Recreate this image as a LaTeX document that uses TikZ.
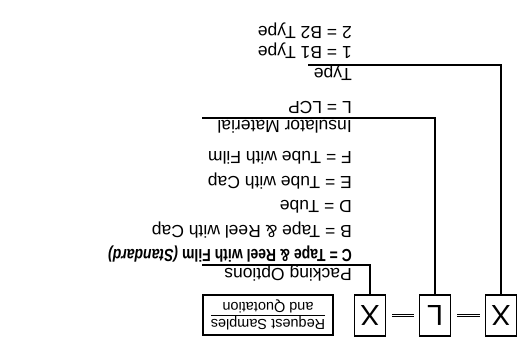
\documentclass[tikz,border=0pt]{standalone}
\usepackage{fontspec}
\setmainfont{Liberation Sans}
\usepackage{graphicx}
\usepackage{tikz}
\usetikzlibrary{positioning}

\begin{document}
\begin{tikzpicture}[x=1pt,y=-1pt,rotate=180,transform shape,
  codebox/.style={draw,line width=1.1pt,minimum width=31pt,minimum height=41pt,inner sep=0pt,font=\fontsize{29}{30}\selectfont},
  dashlink/.style={double,double distance=1.6pt,line width=0.9pt,shorten <=5pt,shorten >=6pt},
  lead/.style={line width=1.3pt},
  head/.style={anchor=base west,inner sep=0pt,font=\fontsize{17.5}{20}\selectfont}]
  \useasboundingbox (0,0) rectangle (518,350);
  % part number boxes
  \node[codebox] (typx) at (17,34.5) {X};
  \node[codebox] (insl) at (83,34.5) {L};
  \node[codebox] (packx) at (148,34.5) {X};
  \draw[dashlink] (typx) -- (insl);
  \draw[dashlink] (insl) -- (packx);
  \node[draw,line width=1.1pt,minimum width=130pt,minimum height=40pt,inner sep=0pt,align=center,font=\fontsize{14.5}{17}\selectfont] (req) at (250,35) {\underline{Request Samples}\\and Quotation};
  % packing options
  \node[head] (packhd) at (166,81) {Packing Options};
  \node[head] (packc) at (166,100) {\scalebox{0.8}[1]{\bfseries C = Tape \& Reel with Film \itshape(Standard)}};
  \foreach \v/\nm/\txt in {124.5/packb/{B = Tape \& Reel with Cap}, 149/packd/{D = Tube}, 173.5/packe/{E = Tube with Cap}, 198/packf/{F = Tube with Film}} {
    \node[head] (\nm) at (166,\v) {\txt};
  }
  \coordinate (packend) at (316,85);
  \draw[lead] (packx.south) |- (packend);
  % insulator material
  \node[head] (inshd) at (166,229) {Insulator Material};
  \node[head] (inslcp) at (166,248) {L = LCP};
  \coordinate (insend) at (316,232);
  \draw[lead] (insl.south) |- (insend);
  % type
  \node[head] (typehd) at (166,281) {Type};
  \node[head] (typeb1) at (166,303) {1 = B1 Type};
  \node[head] (typeb2) at (166,323) {2 = B2 Type};
  \coordinate (typeend) at (210,285);
  \draw[lead] (typx.south) |- (typeend);
\end{tikzpicture}
\end{document}
